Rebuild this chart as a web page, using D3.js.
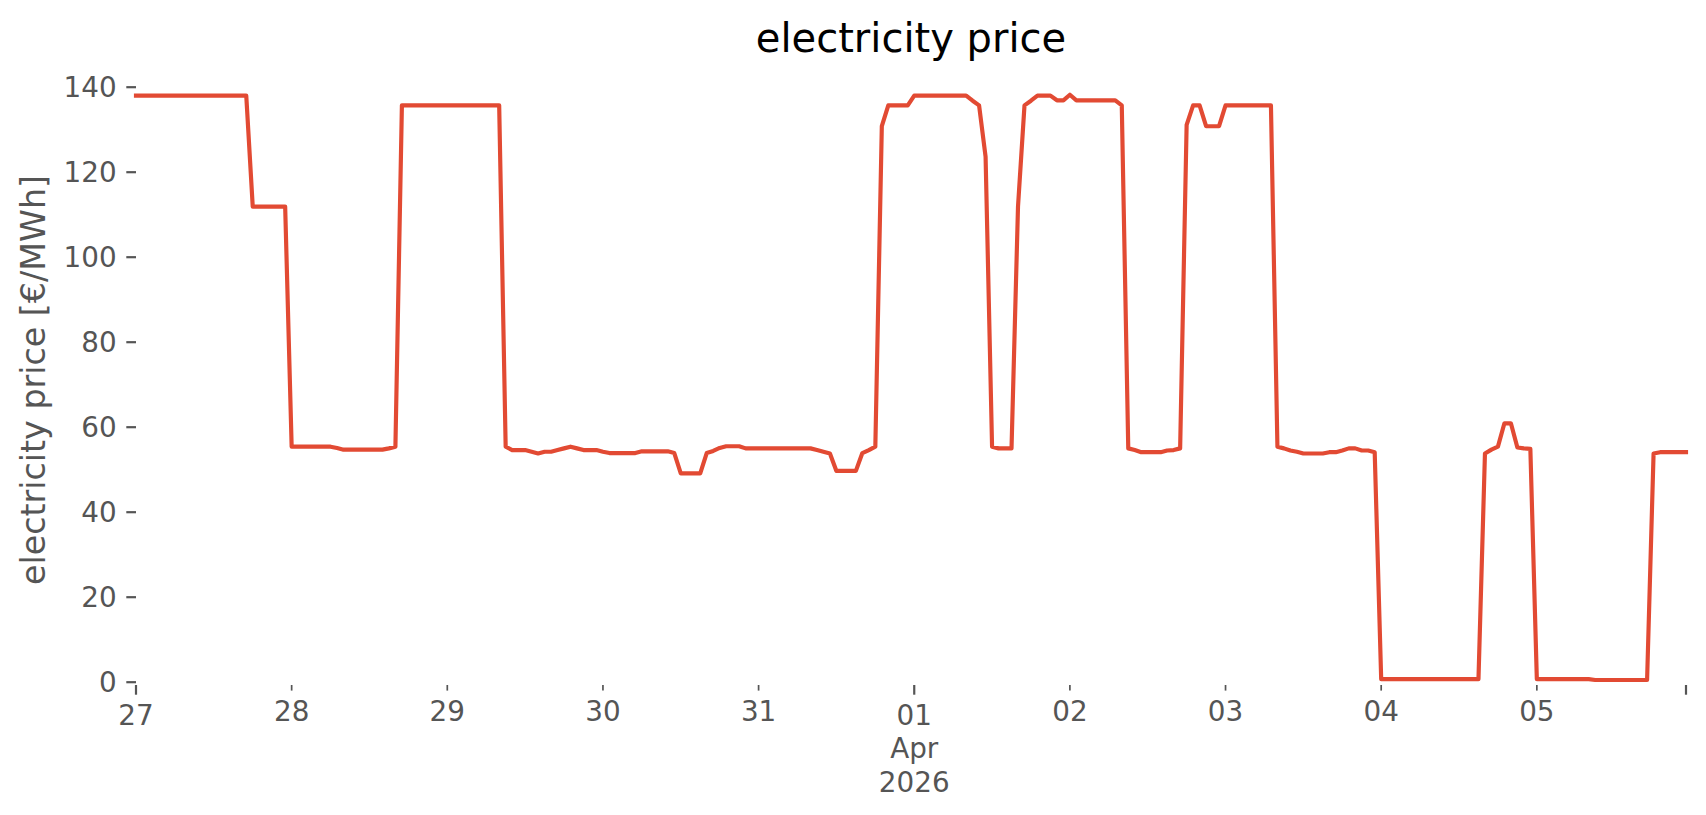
<!DOCTYPE html>
<html>
<head>
<meta charset="utf-8">
<script src="https://cdn.jsdelivr.net/npm/d3@7"></script>
<style>
  body { margin: 0; background: #fff; }
  svg { display: block; font-family: "DejaVu Sans", sans-serif; }
</style>
</head>
<body>
<svg id="chart" width="1706" height="815"></svg>
<script>
// hourly price, one row per day, 27 Mar .. 05 Apr 2026
const day27 = [137.9,137.9,137.9,137.9,137.9,137.9,137.9,137.9,137.9,137.9,137.9,137.9,137.9,137.9,137.9,137.9,137.9,137.9,111.8,111.8,111.8,111.8,111.8,111.8]
const day28 = [55.3,55.3,55.3,55.3,55.3,55.3,55.3,55.0,54.6,54.6,54.6,54.6,54.6,54.6,54.6,54.9,55.3,135.6,135.6,135.6,135.6,135.6,135.6,135.6]
const day29 = [135.6,135.6,135.6,135.6,135.6,135.6,135.6,135.6,135.6,55.3,54.5,54.5,54.5,54.1,53.7,54.1,54.1,54.5,54.9,55.3,54.9,54.5,54.5,54.5]
const day30 = [54.1,53.8,53.8,53.8,53.8,53.8,54.2,54.2,54.2,54.2,54.2,53.8,49.0,49.0,49.0,49.0,53.8,54.3,55.0,55.4,55.4,55.4,54.9,54.9]
const day31 = [54.9,54.9,54.9,54.9,54.9,54.9,54.9,54.9,54.9,54.5,54.1,53.7,49.6,49.6,49.6,49.6,53.8,54.5,55.3,130.7,135.6,135.6,135.6,135.6]
const day01 = [137.9,137.9,137.9,137.9,137.9,137.9,137.9,137.9,137.9,136.7,135.6,123.5,55.3,54.9,54.9,54.9,111.8,135.6,136.7,137.9,137.9,137.9,136.8,136.8]
const day02 = [138.1,136.8,136.8,136.8,136.8,136.8,136.8,136.8,135.6,54.9,54.5,54.0,54.0,54.0,54.0,54.4,54.5,54.9,131.0,135.6,135.6,130.7,130.7,130.7]
const day03 = [135.6,135.6,135.6,135.6,135.6,135.6,135.6,135.6,55.3,54.9,54.4,54.1,53.7,53.7,53.7,53.7,54.0,54.0,54.4,54.9,54.9,54.4,54.4,54.0]
const day04 = [0.6,0.6,0.6,0.6,0.6,0.6,0.6,0.6,0.6,0.6,0.6,0.6,0.6,0.6,0.6,0.6,53.7,54.6,55.3,60.8,60.8,55.1,54.9,54.8]
const day05 = [0.6,0.6,0.6,0.6,0.6,0.6,0.6,0.6,0.6,0.4,0.4,0.4,0.4,0.4,0.4,0.4,0.4,0.4,53.7,54.0,54.0,54.0,54.0,54.0]

const prices = [].concat(day27, day28, day29, day30, day31, day01, day02, day03, day04, day05)
const hours = d3.utcHour.range(Date.UTC(2026, 2, 27, 0), Date.UTC(2026, 3, 6, 0))
const data = hours.map((t, i) => ({date: t, price: prices[i]}))

const yTicks = [0, 20, 40, 60, 80, 100, 120, 140]
const minorDays = [28, 29, 30, 31, 2, 3, 4, 5]   // day-of-month of minor ticks
const minorLabels = ["28", "29", "30", "31", "02", "03", "04", "05"]
const majorLabels = [["27"], ["01", "Apr", "2026"]]

const svg = d3.select("#chart")
const left = 136, right = 1686, axisY = 685
const x = d3.scaleUtc()
  .domain([hours[0], hours[hours.length - 1]])
  .range([left, right])
const y = d3.scaleLinear().domain([0, 140]).range([681.7, 86.7])

const grey = "#555555"
const tickFont = 27.8

// y axis
const yAxis = svg.append("g")
  .attr("transform", `translate(${left},0)`)
  .call(d3.axisLeft(y).tickValues(yTicks).tickSize(9.7).tickPadding(9.7))
yAxis.select(".domain").remove()
yAxis.selectAll(".tick line").attr("stroke", grey).attr("stroke-width", 2.2)
yAxis.selectAll(".tick text")
  .attr("fill", grey).attr("font-size", tickFont)
  .attr("font-family", "DejaVu Sans").attr("dy", "0.36em")

// x axis: minor ticks every day, major ticks on 27 Mar, 01 Apr and the end
const minorDates = [28, 29, 30, 31].map(d => new Date(Date.UTC(2026, 2, d)))
  .concat([2, 3, 4, 5].map(d => new Date(Date.UTC(2026, 3, d))))
const majorDates = [new Date(Date.UTC(2026, 2, 27)), new Date(Date.UTC(2026, 3, 1))]

svg.append("g").selectAll("line").data(minorDates).join("line")
  .attr("x1", d => x(d)).attr("x2", d => x(d))
  .attr("y1", axisY).attr("y2", axisY + 5.6)
  .attr("stroke", grey).attr("stroke-width", 1.7)

svg.append("g").selectAll("line").data(majorDates.concat([hours[hours.length - 1]])).join("line")
  .attr("x1", d => x(d)).attr("x2", d => x(d))
  .attr("y1", axisY).attr("y2", axisY + 9.7)
  .attr("stroke", grey).attr("stroke-width", 2.2)

svg.append("g").selectAll("text").data(minorDates).join("text")
  .attr("x", d => x(d)).attr("y", 721)
  .attr("text-anchor", "middle").attr("fill", grey).attr("font-size", tickFont)
  .text((d, i) => minorLabels[i])

majorDates.forEach((d, i) => {
  const t = svg.append("text")
    .attr("x", x(d)).attr("y", 725)
    .attr("text-anchor", "middle").attr("fill", grey).attr("font-size", tickFont)
  majorLabels[i].forEach((s, j) => {
    t.append("tspan").attr("x", x(d)).attr("dy", j === 0 ? 0 : 33.4).text(s)
  })
})

// the line
const line = d3.line().x(d => x(d.date)).y(d => y(d.price))
svg.append("path")
  .datum(data)
  .attr("d", line)
  .attr("fill", "none")
  .attr("stroke", "#E24A33")
  .attr("stroke-width", 4.17)
  .attr("stroke-linejoin", "round")
  .attr("stroke-linecap", "square")

// title and axis label
svg.append("text")
  .attr("x", (left + right) / 2).attr("y", 52)
  .attr("text-anchor", "middle").attr("font-size", 40).attr("fill", "#000")
  .text("electricity price")

svg.append("text")
  .attr("transform", "translate(44.5,380) rotate(-90)")
  .attr("text-anchor", "middle").attr("font-size", 33.3).attr("fill", grey)
  .text("electricity price [€/MWh]")
</script>
</body>
</html>
